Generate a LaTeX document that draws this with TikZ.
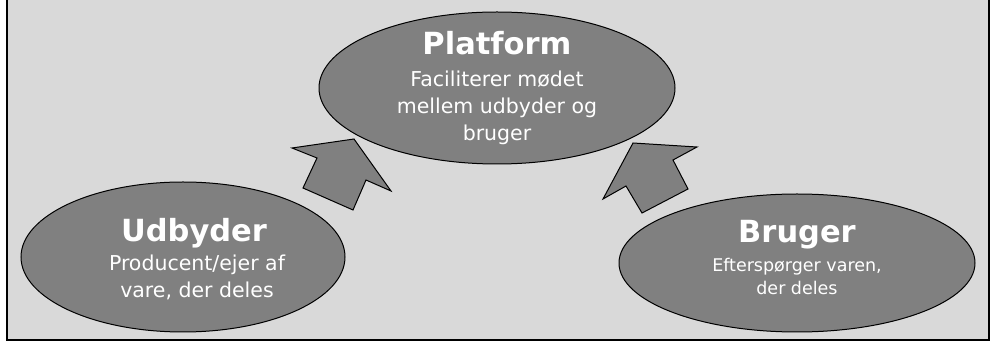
\documentclass[tikz,border=0pt]{standalone}
\usepackage{fontspec}
\setmainfont{DejaVu Sans}
\usetikzlibrary{shapes.geometric}
\definecolor{bgcolor}{HTML}{D9D9D9}
\definecolor{shapecolor}{HTML}{808080}
\begin{document}
\begin{tikzpicture}[x=1pt,y=-1pt,
  oval/.style={ellipse,draw=black,fill=shapecolor,line width=1pt,inner sep=0pt},
  titletext/.style={text=white,font=\bfseries\fontsize{30.5}{32}\selectfont,anchor=base,inner sep=0pt},
  subtext/.style={text=white,align=center,font=\fontsize{20.5}{27}\selectfont,anchor=base,inner sep=0pt},
  blockarrow/.style={draw=black,fill=shapecolor,line width=1pt,line join=miter}]
\useasboundingbox (0,0) rectangle (991,344);
\draw[fill=bgcolor,line width=2pt] (7,-5) rectangle (989,340);
% the three parties
\node[oval,minimum width=356pt,minimum height=152pt] (platform) at (497,88) {};
\node[oval,minimum width=324pt,minimum height=150pt] (udbyder) at (183,257) {};
\node[oval,minimum width=356pt,minimum height=138pt] (bruger) at (797,263) {};
\node[titletext] (platformtitle) at (497,55) {Platform};
\node[subtext] (platformtext) at (497,141) {Faciliterer mødet\\mellem udbyder og\\bruger};
\node[titletext] (udbydertitle) at (194,242) {Udbyder};
\node[subtext] (udbydertext) at (197,298) {Producent/ejer af\\vare, der deles};
\node[titletext] (brugertitle) at (797,243) {Bruger};
\node[subtext,font=\fontsize{17.5}{23}\selectfont] (brugertext) at (797,295) {Efterspørger varen,\\der deles};
% block arrows towards the platform
\draw[blockarrow] (303,188) -- (317,158) -- (292,148) -- (354,139) -- (391,191) -- (366,180) -- (353,210) -- cycle;
\draw[blockarrow] (642,213) -- (626,186) -- (603,199) -- (633,143) -- (697,147) -- (673,160) -- (688,189) -- cycle;
\end{tikzpicture}
\end{document}
